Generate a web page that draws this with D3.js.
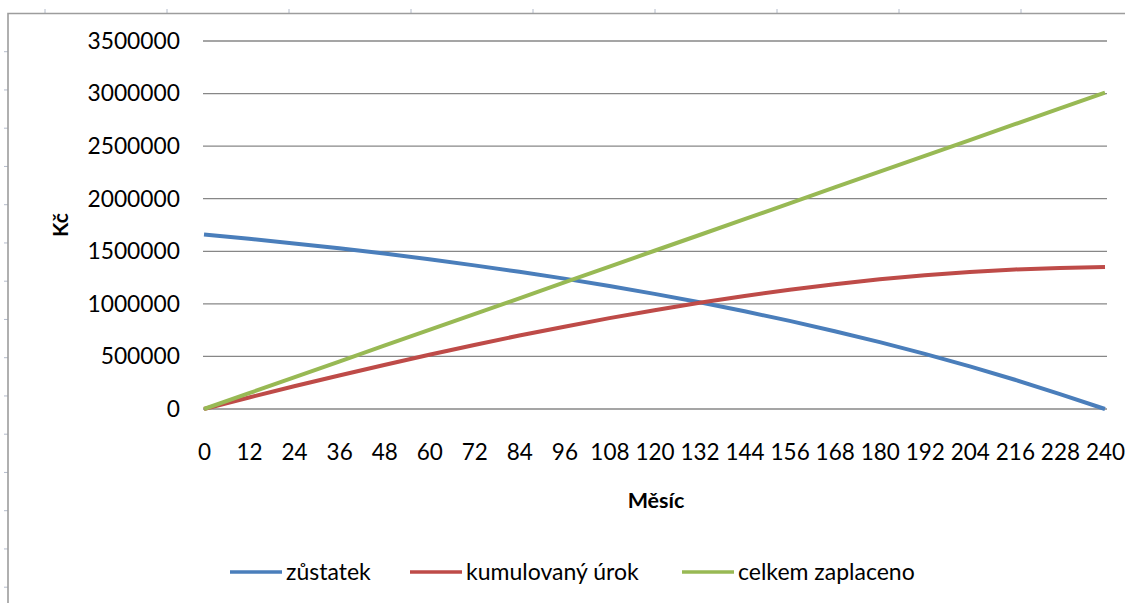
<!DOCTYPE html>
<html>
<head>
<meta charset="utf-8">
<script src="https://cdn.jsdelivr.net/npm/d3@7/dist/d3.min.js"></script>
<style>
  body { margin: 0; background: #fff; }
  svg { display: block; font-family: Lato, "Open Sans", sans-serif; }
</style>
</head>
<body>
<div id="chart"></div>
<script>
// Hypotéka - vývoj zůstatku, úroku a celkové platby
var months = [0, 12, 24, 36, 48, 60, 72, 84, 96, 108, 120, 132, 144, 156, 168, 180, 192, 204, 216, 228, 240];
var zustatek = [1660000, 1619000, 1575000, 1528000, 1478000, 1424000, 1366000, 1305000, 1240000, 1170000, 1095000,
                1015000, 929000, 838000, 740000, 636000, 524000, 405000, 278000, 142000, 0];
var urok = [0, 109000, 216000, 319000, 419000, 516000, 609000, 699000, 783000, 864000, 940000,
            1010000, 1075000, 1134000, 1187000, 1233000, 1272000, 1303000, 1327000, 1341000, 1350000];
var zaplaceno = [0, 150000, 301000, 451000, 602000, 752000, 903000, 1053000, 1204000, 1354000, 1505000,
                 1655000, 1806000, 1956000, 2107000, 2257000, 2408000, 2558000, 2709000, 2859000, 3010000];
var yTicks = [0, 500000, 1000000, 1500000, 2000000, 2500000, 3000000, 3500000];
var seriesNames = ["zůstatek", "kumulovaný úrok", "celkem zaplaceno"];
var seriesColors = ["#4a7ebb", "#be4b48", "#98b954"];

var W = 1125, H = 603;
var svg = d3.select("#chart").append("svg").attr("width", W).attr("height", H);

// spreadsheet frame with faint cell marks
var frame = svg.append("g");
frame.selectAll(".tt").data(d3.range(45, W, 122)).enter().append("line")
  .attr("x1", function(d) { return d; }).attr("x2", function(d) { return d; })
  .attr("y1", 9).attr("y2", 13).attr("stroke", "#b4bccb").attr("stroke-width", 1);
frame.selectAll(".lt").data(d3.range(51.7, H, 38.25)).enter().append("line")
  .attr("x1", 4).attr("x2", 8)
  .attr("y1", function(d) { return d; }).attr("y2", function(d) { return d; })
  .attr("stroke", "#b4bccb").attr("stroke-width", 1);
frame.append("path").attr("d", "M8," + H + "V13.5H" + W)
  .attr("fill", "none").attr("stroke", "#9d9d9d").attr("stroke-width", 1.6);

var x = d3.scaleLinear().domain([0, 240]).range([204, 1105]);
var y = d3.scaleLinear().domain([0, 3500000]).range([409, 41]);

// gridlines
svg.append("g").selectAll("line").data(yTicks).enter().append("line")
  .attr("x1", 203).attr("x2", 1107)
  .attr("y1", function(d) { return y(d); }).attr("y2", function(d) { return y(d); })
  .attr("stroke", "#878787").attr("stroke-width", 1.3);

// y axis
var yAxis = svg.append("g").attr("transform", "translate(203,0)")
  .call(d3.axisLeft(y).tickValues(yTicks).tickSize(0).tickPadding(23).tickFormat(d3.format("d")));
yAxis.select(".domain").remove();
yAxis.selectAll("text").attr("font-size", 22.8).attr("fill", "#000").style("font-family", "Lato, sans-serif");

// x axis
var xAxis = svg.append("g").attr("transform", "translate(0,409)")
  .call(d3.axisBottom(x).tickValues(months).tickSize(0).tickPadding(35));
xAxis.select(".domain").remove();
xAxis.selectAll("text").attr("font-size", 22.5).attr("fill", "#000").style("font-family", "Lato, sans-serif");

// axis titles
svg.append("text").attr("transform", "translate(68,225) rotate(-90)")
  .attr("text-anchor", "middle").attr("font-size", 21).attr("font-weight", "bold").text("Kč");
svg.append("text").attr("x", 656).attr("y", 508)
  .attr("text-anchor", "middle").attr("font-size", 21.5).attr("font-weight", "bold").text("Měsíc");

// lines
var series = [zustatek, urok, zaplaceno];
var line = d3.line()
  .x(function(d, i) { return x(months[i]); })
  .y(function(d) { return y(d); });
series.forEach(function(s, i) {
  svg.append("path").datum(s)
    .attr("d", line)
    .attr("fill", "none")
    .attr("stroke", seriesColors[i])
    .attr("stroke-width", 4)
    .attr("stroke-linejoin", "round");
});

// legend
var legendX = [230, 410, 682];
var leg = svg.append("g");
seriesNames.forEach(function(n, i) {
  leg.append("line").attr("x1", legendX[i]).attr("x2", legendX[i] + 52)
    .attr("y1", 572).attr("y2", 572)
    .attr("stroke", seriesColors[i]).attr("stroke-width", 3.6);
  leg.append("text").attr("x", legendX[i] + 56).attr("y", 580)
    .attr("font-size", 23).attr("fill", "#000").text(n);
});
</script>
</body>
</html>
